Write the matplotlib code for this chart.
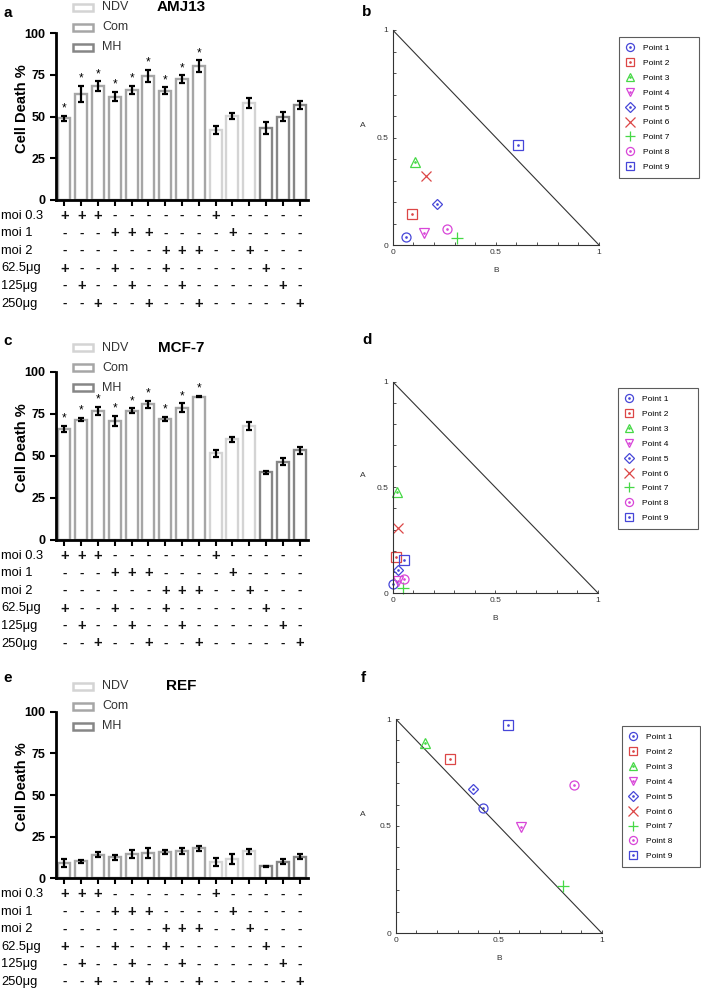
import numpy as np
import matplotlib
matplotlib.use("Agg")
import matplotlib.pyplot as plt
import matplotlib.transforms as mtransforms
from matplotlib.patches import Rectangle
from matplotlib.lines import Line2D

plt.rcParams["font.family"] = ["Liberation Sans", "DejaVu Sans"]

W, H = 701, 991

# ---- bar chart data (Cell Death %) ----
amj13_vals = [49, 63.6, 68.4, 62, 66, 74.4, 65.6, 72.4, 80.4, 42, 50.6, 58.4, 43, 50, 57]
amj13_err = [1.5, 4.8, 2.8, 2.8, 2.5, 3.8, 2, 2.5, 3.5, 2.5, 1.8, 3, 3.5, 2.5, 2.5]
mcf7_vals = [66, 71.5, 76.7, 70.8, 76.7, 80.6, 72, 78.7, 85.2, 51.6, 59.9, 67.8, 40.3, 46.6, 53.2]
mcf7_err = [2, 1, 2.5, 3, 1.5, 2, 1.2, 2.5, 0.5, 2, 1.5, 2.5, 0.8, 2, 2]
ref_vals = [9.1, 10.2, 14.2, 12.6, 14.6, 15.2, 15.9, 16.3, 17.9, 9.8, 11.6, 16.3, 7.1, 9.8, 12.8]
ref_err = [2.5, 1, 1.5, 1.5, 2.5, 3, 1.2, 2, 1.5, 2.5, 3, 1.5, 0.5, 1.5, 1.5]
bar_group = ["Com"] * 9 + ["NDV"] * 3 + ["MH"] * 3
n_stars = {"AMJ13": 9, "MCF-7": 9, "REF": 0}

row_labels = ["moi 0.3", "moi 1", "moi 2", "62.5\u03bcg", "125\u03bcg", "250\u03bcg"]
row_signs = ["+++------+-----",
             "---+++----+----",
             "------+++--+---",
             "+--+--+-----+--",
             "-+--+--+-----+-",
             "--+--+--+-----+"]

# ---- isobologram data (B, A) ----
point_names = ["Point %d" % i for i in range(1, 10)]
b_x = [0.065, 0.092, 0.106, 0.15, 0.215, 0.161, 0.31, 0.265, 0.608]
b_y = [0.036, 0.143, 0.385, 0.054, 0.19, 0.32, 0.034, 0.073, 0.465]
d_x = [0.003, 0.015, 0.02, 0.028, 0.024, 0.024, 0.049, 0.053, 0.055]
d_y = [0.043, 0.17, 0.48, 0.058, 0.11, 0.307, 0.024, 0.068, 0.156]
f_x = [0.426, 0.264, 0.141, 0.61, 0.374, np.nan, 0.812, 0.867, 0.545]
f_y = [0.586, 0.812, 0.89, 0.493, 0.672, np.nan, 0.219, 0.692, 0.972]

group_color = {"NDV": "#d4d4d4", "Com": "#a6a6a6", "MH": "#868686"}
pt_colors = ["#4646d8", "#dc4646", "#46d846", "#d846d8", "#4646d8",
             "#dc4646", "#46d846", "#d846d8", "#4646d8"]
pt_markers = ["o", "s", "^", "v", "D", "x", "+", "o", "s"]
pt_sizes = [6.5, 6.5, 7, 7, 5.5, 7.5, 8, 6.5, 7]


def rect(l, t, r, b):
    return [l / W, 1 - b / H, (r - l) / W, (b - t) / H]


def fy(y):
    return 1 - y / H


fig = plt.figure(figsize=(W / 100, H / 100), dpi=100)


def bar_panel(top, bottom, title, vals, errs, letter, letter_y, leg_y):
    ax = fig.add_axes(rect(56, top, 308, bottom))
    x = np.arange(len(vals))
    cols = [group_color[g] for g in bar_group]
    ax.bar(x, vals, width=0.72, facecolor="white", edgecolor=cols, linewidth=1.7)
    ax.errorbar(x, vals, yerr=errs, fmt="none", ecolor="black", elinewidth=1.6,
                capsize=2.2, capthick=1.6)
    for i in range(n_stars[title]):
        ax.text(x[i], vals[i] + errs[i] + 4.3, "*", ha="center", va="center", fontsize=8.5)
    ax.set_xlim(-0.5, 14.5)
    ax.set_ylim(0, 100)
    ax.set_yticks([0, 25, 50, 75, 100])
    ax.set_xticks(x)
    ax.set_xticklabels([])
    ax.tick_params(axis="both", width=1.5, length=4, labelsize=9)
    for lab in ax.get_yticklabels():
        lab.set_fontweight("bold")
    ax.spines["top"].set_visible(False)
    ax.spines["right"].set_visible(False)
    ax.spines["left"].set_linewidth(2)
    ax.spines["bottom"].set_linewidth(2)
    ax.patch.set_alpha(0)
    fig.text(22 / W, fy((top + bottom) / 2 - 8), "Cell Death %", rotation=90,
             ha="center", va="center", fontsize=10.5, fontweight="bold")
    fig.text(8 / W, fy(letter_y), letter, ha="center", va="center",
             fontsize=11, fontweight="bold")
    fig.text(181 / W, fy(leg_y), title, ha="center", va="center",
             fontsize=11, fontweight="bold")
    for k, g in enumerate(["NDV", "Com", "MH"]):
        yy = leg_y + 20 * k
        fig.add_artist(Rectangle((73 / W, fy(yy + 3.5)), 20 / W, 7 / H,
                                 transform=fig.transFigure, facecolor="white",
                                 edgecolor=group_color[g], linewidth=1.8))
        fig.text(102 / W, fy(yy), g, ha="left", va="center", fontsize=9, color="#333333")
    tr = mtransforms.blended_transform_factory(ax.transData, fig.transFigure)
    for r, (lab, signs) in enumerate(zip(row_labels, row_signs)):
        yy = bottom + 16 + 17.5 * r
        fig.text(1 / W, fy(yy), lab, ha="left", va="center", fontsize=9.3)
        for i, s in enumerate(signs):
            ax.text(x[i], fy(yy), s, transform=tr, ha="center", va="center",
                    fontsize=10.5 if s == "+" else 9.5, fontweight="bold",
                    color="#111111", clip_on=False)
    return ax


bar_panel(33.3, 200, "AMJ13", amj13_vals, amj13_err, "a", 13, 7)
bar_panel(371.7, 540, "MCF-7", mcf7_vals, mcf7_err, "c", 341, 347.7)
bar_panel(711.7, 878.3, "REF", ref_vals, ref_err, "e", 678, 686)


def iso_panel(l, t, r, b, xs, ys, letter, letter_xy, leg_box):
    ax = fig.add_axes(rect(l, t, r, b))
    ax.plot([0, 1], [1, 0], color="#333333", linewidth=0.8)
    handles = []
    for i in range(9):
        ax.plot([xs[i]], [ys[i]], linestyle="none", marker=pt_markers[i],
                markersize=pt_sizes[i], markerfacecolor="none",
                markeredgecolor=pt_colors[i], markeredgewidth=0.9, clip_on=False)
        h = Line2D([], [], linestyle="none", marker=pt_markers[i],
                   markersize=pt_sizes[i] - 0.7, markerfacecolor="none",
                   markeredgecolor=pt_colors[i], markeredgewidth=0.9)
        if pt_markers[i] not in ("x", "+"):
            ax.plot([xs[i]], [ys[i]], linestyle="none", marker="o", markersize=0.9,
                    color=pt_colors[i], clip_on=False)
            dot = Line2D([], [], linestyle="none", marker="o", markersize=0.9,
                         color=pt_colors[i])
            h = (h, dot)
        handles.append(h)
    ax.set_xlim(0, 1)
    ax.set_ylim(0, 1)
    ticks = np.round(np.arange(0, 1.01, 0.1), 1)
    labs = ["0" if v == 0 else "0.5" if v == 0.5 else "1" if v == 1 else "" for v in ticks]
    ax.set_xticks(ticks)
    ax.set_xticklabels(labs)
    ax.set_yticks(ticks)
    ax.set_yticklabels(labs)
    ax.tick_params(direction="in", length=2.5, width=0.6, labelsize=6,
                   colors="#333333", pad=3)
    ax.spines["top"].set_visible(False)
    ax.spines["right"].set_visible(False)
    for s in ("left", "bottom"):
        ax.spines[s].set_linewidth(0.8)
        ax.spines[s].set_color("#333333")
    ax.patch.set_alpha(0)
    fig.text(363 / W, fy((t + b) / 2 - 12), "A", ha="center", va="center",
             fontsize=6, color="#333333")
    fig.text((l + r) / 2 / W, fy(b + 25), "B", ha="center", va="center",
             fontsize=6, color="#333333")
    fig.text(letter_xy[0] / W, fy(letter_xy[1]), letter, ha="center", va="center",
             fontsize=11, fontweight="bold")
    lx0, ly0, lx1, ly1 = leg_box
    leg = ax.legend(handles, point_names, loc="upper left", mode="expand",
                    bbox_to_anchor=(lx0 / W, fy(ly1), (lx1 - lx0) / W, (ly1 - ly0) / H),
                    bbox_transform=fig.transFigure, borderaxespad=0,
                    fontsize=6, handlelength=1.0, handletextpad=1.0,
                    borderpad=0.85, labelspacing=0.85, fancybox=False,
                    frameon=True, edgecolor="#333333")
    leg.get_frame().set_linewidth(0.8)
    return ax


iso_panel(392.7, 30, 599, 245, b_x, b_y, "b", (367, 12), (619, 37, 699, 172))
iso_panel(392.7, 381.7, 598, 593, d_x, d_y, "d", (367, 340), (618, 388, 698, 522))
iso_panel(395.7, 719, 601.7, 933, f_x, f_y, "f", (363, 678), (622, 726, 700, 860))

fig.savefig("out.png", dpi=100)
